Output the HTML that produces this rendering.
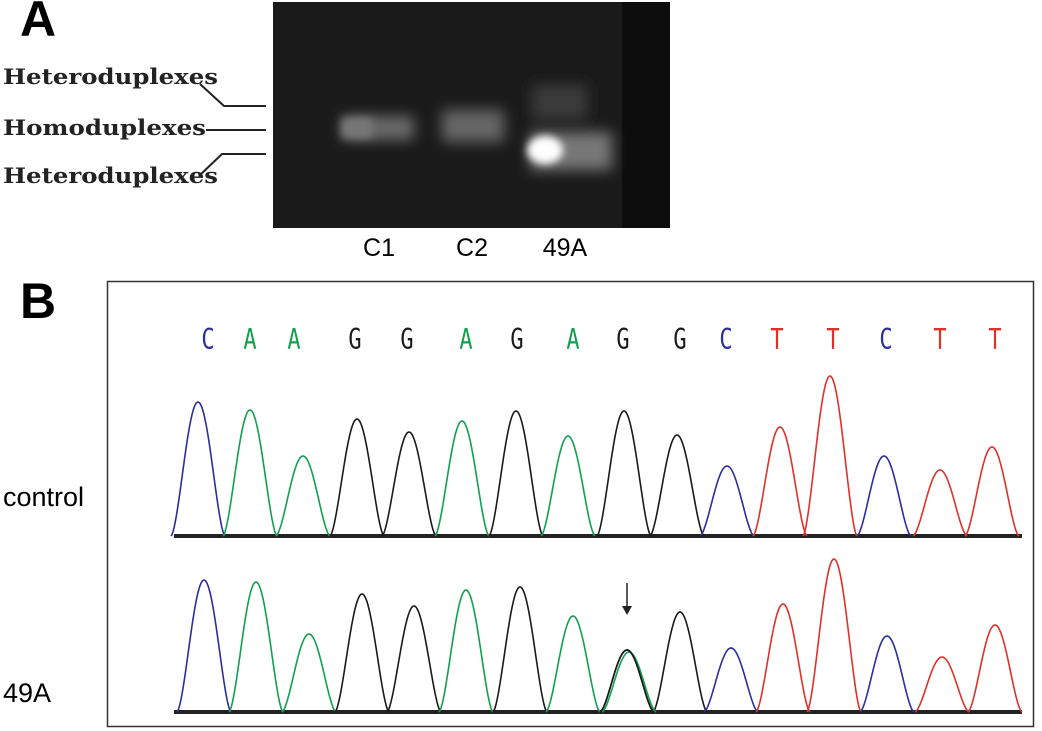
<!DOCTYPE html>
<html><head><meta charset="utf-8"><style>
body{margin:0;width:1042px;height:731px;background:#fff;position:relative;overflow:hidden;font-family:"Liberation Sans",sans-serif}
.abs{position:absolute}
.lbl{font-family:"DejaVu Serif","Liberation Serif",serif;font-weight:bold;font-size:21px;fill:#222}
</style></head><body>
<div class="abs" style="left:20px;top:-10px;font-size:50px;font-weight:bold">A</div>
<div class="abs" style="left:20px;top:272px;font-size:50px;font-weight:bold">B</div>
<svg class="abs" style="left:0;top:0" width="1042" height="731">
<defs>
<filter id="bl" x="-50%" y="-50%" width="200%" height="200%"><feGaussianBlur stdDeviation="7"/></filter>
<filter id="bl2" x="-50%" y="-50%" width="200%" height="200%"><feGaussianBlur stdDeviation="4"/></filter>
</defs>
<g>
<rect x="273" y="2" width="397" height="226" fill="#1a1a1a"/>
<rect x="622" y="2" width="48" height="226" fill="#0d0d0d"/>
<rect x="342" y="116" width="72" height="24" fill="#6a6a6a" filter="url(#bl)"/>
<rect x="342" y="118" width="30" height="20" fill="#777" filter="url(#bl2)"/>
<rect x="442" y="110" width="62" height="32" fill="#666" filter="url(#bl)"/>
<rect x="532" y="85" width="55" height="35" fill="#3a3a3a" filter="url(#bl)"/>
<rect x="530" y="132" width="82" height="38" fill="#777" filter="url(#bl)"/>
<ellipse cx="545" cy="150" rx="18" ry="14" fill="#fff" filter="url(#bl2)"/>
</g>
<g>
<text x="3" y="84" class="lbl" textLength="215" lengthAdjust="spacingAndGlyphs">Heteroduplexes</text>
<text x="3" y="135" class="lbl" textLength="203" lengthAdjust="spacingAndGlyphs">Homoduplexes</text>
<text x="3" y="183" class="lbl" textLength="215" lengthAdjust="spacingAndGlyphs">Heteroduplexes</text>
</g>
<g stroke="#222" stroke-width="2" fill="none">
<polyline points="200,84 224,106 266,106"/>
<line x1="206" y1="130" x2="266" y2="130"/>
<polyline points="200,175 222,154 266,154"/>
</g>
<g font-size="25" text-anchor="middle" fill="#000">
<text x="379" y="256">C1</text>
<text x="472" y="256">C2</text>
<text x="565" y="256">49A</text>
</g>
<rect x="107.5" y="281.5" width="926" height="445" fill="none" stroke="#333" stroke-width="1.5"/>
<text x="3" y="506" font-size="27">control</text>
<text x="3" y="702" font-size="27">49A</text>
<g id="seq" font-family="DejaVu Sans Mono,Liberation Mono,monospace" font-size="22" text-anchor="middle"></g>
<g id="traces"></g>
<g><line x1="627" y1="583" x2="627" y2="608" stroke="#222" stroke-width="1.5"/><polygon points="622,606 632,606 627,615" fill="#222"/></g>
</svg>
<script>
const bases=["C","A","A","G","G","A","G","A","G","G","C","T","T","C","T","T"];
const letterX=[208,250,294,355,407,466,517,573,623,680,726,777,833,886,940,995];
const ctrlX=[198,250,303,357,409,462,516,568,624,677,727,780,830,884,940,992];
const ctrlTop=[402,410,456,419,432,421,411,436,411,435,466,427,376,456,470,447];
const mutX=[204,256,309,362,414,466,520,573,627,680,731,783,834,887,942,995];
const mutTop=[580,582,634,594,606,590,587,616,650,612,648,604,559,636,657,625];
const col={C:"#2a2f9c",A:"#12a050",G:"#1a1a1a",T:"#e03128"};
const ns="http://www.w3.org/2000/svg";
const seq=document.getElementById('seq'),tr=document.getElementById('traces');
bases.forEach((b,i)=>{const t=document.createElementNS(ns,'text');t.setAttribute('x',letterX[i]);t.setAttribute('y',0);t.setAttribute('fill',col[b]);t.setAttribute('transform','translate(0,349) scale(1,1.3)');t.textContent=b;


seq.appendChild(t);});
function peak(x,top,base,color,name){const w=27,p=document.createElementNS(ns,'path');let d='';
  for(let k=-w;k<=w;k+=1){const y=base-(base-top)*Math.pow(Math.cos(Math.PI*k/(2*w)),1.6);d+=(k===-w?'M':'L')+(x+k)+','+y.toFixed(1);}
  p.setAttribute('d',d);p.setAttribute('fill','none');p.setAttribute('stroke',color);p.setAttribute('stroke-width',1.6);
  
  
  tr.appendChild(p);}
function trace(xs,tops,base,name){
 const bl=document.createElementNS(ns,'line');bl.setAttribute('x1',174);bl.setAttribute('x2',1022);bl.setAttribute('y1',base);bl.setAttribute('y2',base);bl.setAttribute('stroke','#222');bl.setAttribute('stroke-width',4);
 
 
 tr.appendChild(bl);
 xs.forEach((x,i)=>peak(x,tops[i],base,col[bases[i]],name+'-peak-'+i));
}
trace(ctrlX,ctrlTop,536,'control');
trace(mutX,mutTop,712,'sample-49a');
peak(mutX[8]+2,mutTop[8]+2,712,col.A,'sample-49a-mutant-a-peak');
peak(mutX[8],mutTop[8],712,col.G,'sample-49a-mutant-g-peak');
</script>
</body></html>
